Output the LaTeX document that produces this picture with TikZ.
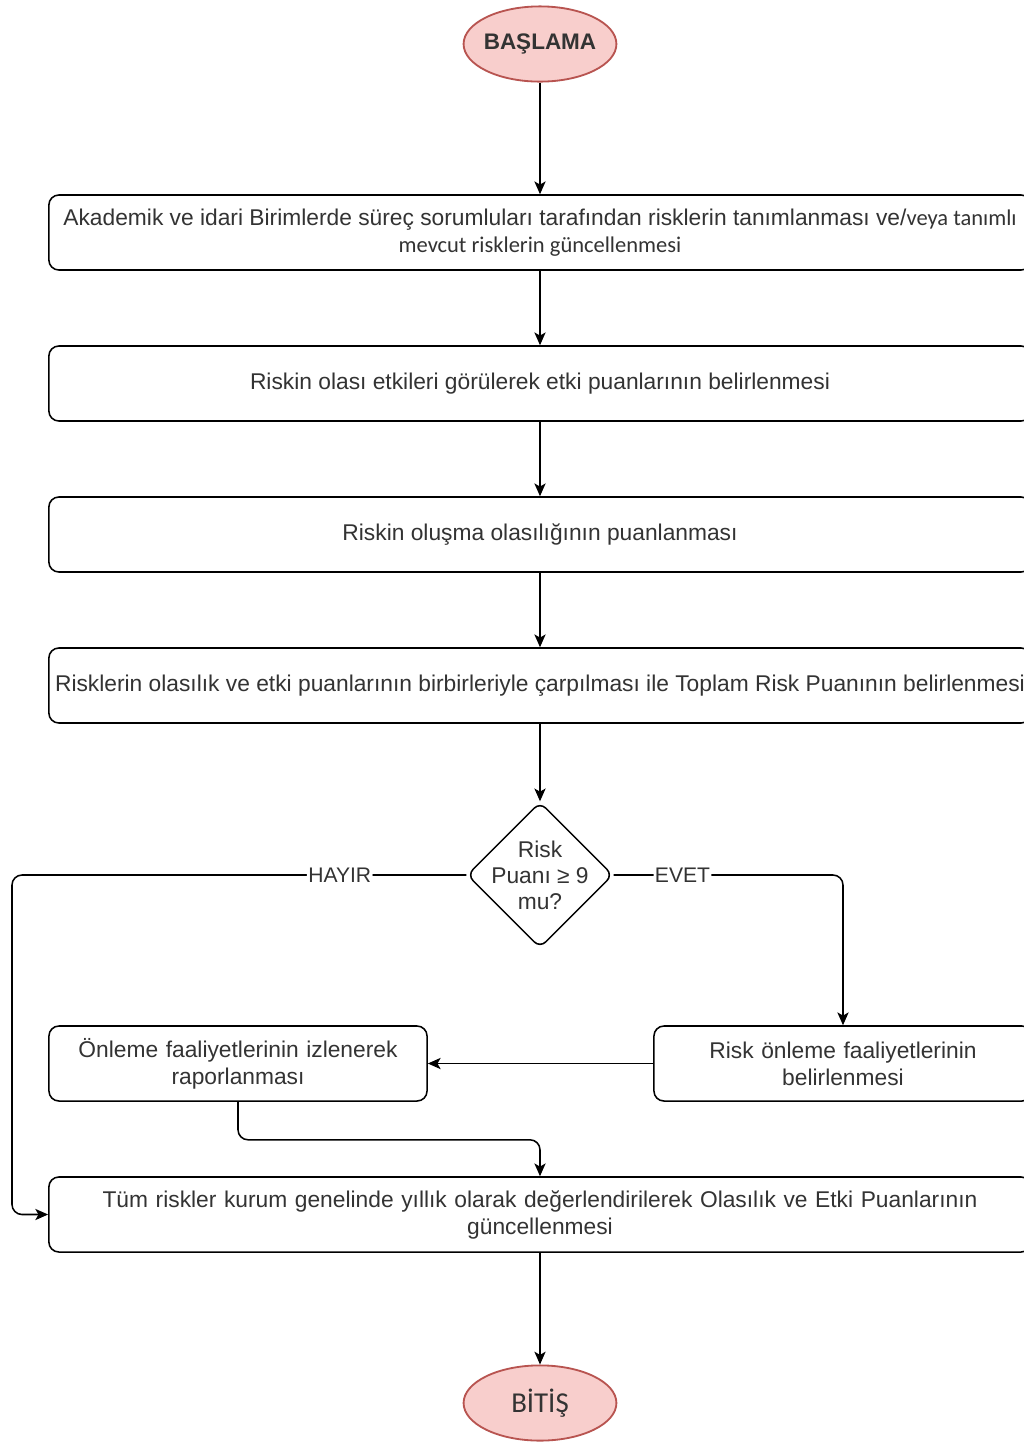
\documentclass[tikz,border=0pt]{standalone}
\usepackage{fontspec}
\setmainfont{Liberation Sans}
\newfontfamily\calib{Carlito}
\usetikzlibrary{shapes.geometric,arrows.meta}
\definecolor{termfill}{HTML}{F8CECC}
\definecolor{termline}{HTML}{B85450}
\definecolor{txt}{HTML}{333333}
\begin{document}
\begin{tikzpicture}[x=0.025cm,y=-0.025cm,
  every node/.style={text=txt,font=\fontsize{16.2}{19.2}\selectfont},
  term/.style={ellipse,draw=termline,fill=termfill,line width=1.3pt,
    minimum width=3.82cm,minimum height=1.88cm,inner sep=-2.5pt},
  proc/.style={rectangle,draw=black,line width=1.1pt,rounded corners=0.25cm,
    minimum width=24.55cm,minimum height=1.875cm,align=center,inner sep=2pt},
  half/.style={proc,minimum width=9.45cm,text width=9cm},
  dec/.style={diamond,draw=black,line width=1.1pt,rounded corners=0.2cm,
    minimum width=3.6cm,minimum height=3.5cm,inner sep=-3.6pt,align=center,
    font=\fontsize{16.2}{18.5}\selectfont},
  arr/.style={draw=black,line width=1.1pt,rounded corners=0.25cm,
    -{Stealth[length=0.32cm,width=0.28cm,inset=0.08cm]}},
  lbl/.style={fill=white,inner sep=1pt,font=\fontsize{15}{18}\selectfont}]
\useasboundingbox (0,0) rectangle (1024,1443);
\clip (0,0) rectangle (1024,1443);
\fill[white] (0,0) rectangle (1024,1443);

% terminals
\node[term,font=\bfseries\fontsize{16}{18}\selectfont] (bas) at (540,44) {BAŞLAMA};
\node[term,font=\calib\fontsize{20.5}{22}\selectfont] (bit) at (540,1403) {BİTİŞ};

% process steps
\node[proc] (p1) at (540,232.5) {Akademik ve idari Birimlerde süreç sorumluları tarafından risklerin tanımlanması ve/{\calib\fontsize{16}{19.2}\selectfont veya tanımlı}\\{\calib\fontsize{16}{19.2}\selectfont mevcut risklerin güncellenmesi}};
\node[proc] (p2) at (540,383.5) {Riskin olası etkileri görülerek etki puanlarının belirlenmesi};
\node[proc] (p3) at (540,534.5) {Riskin oluşma olasılığının puanlanması};
\node[proc] (p4) at (540,685.5) {Risklerin olasılık ve etki puanlarının birbirleriyle çarpılması ile Toplam Risk Puanının belirlenmesi};

% decision
\node[dec] (d) at (540,875) {Risk\\Puanı ≥ 9\\mu?};

% follow-up steps
\node[half] (onl) at (843,1063.5) {Risk önleme faaliyetlerinin\\belirlenmesi};
\node[half] (izl) at (238,1063.5) {Önleme faaliyetlerinin izlenerek\\raporlanması};
\node[proc,text width=23.5cm] (fin) at (540,1214.5) {Tüm riskler kurum genelinde yıllık olarak değerlendirilerek Olasılık ve Etki Puanlarının\\güncellenmesi};

\coordinate (leftrail) at (12,875);

% connectors
\draw[arr] (bas) -- (p1);
\draw[arr] (p1) -- (p2);
\draw[arr] (p2) -- (p3);
\draw[arr] (p3) -- (p4);
\draw[arr] (p4) -- (d);
\draw[arr] (d.west) -- node[lbl,pos=0.2785]{HAYIR} (leftrail) |- (fin.west);
\draw[arr] (d.east) -| node[lbl,pos=0.15]{EVET} (onl.north);
\draw[arr] (onl.west) -- (izl.east);
\draw[arr] (izl.south) -- ++(0,38) -| (fin.north);
\draw[arr] (fin) -- (bit);
\end{tikzpicture}
\end{document}
